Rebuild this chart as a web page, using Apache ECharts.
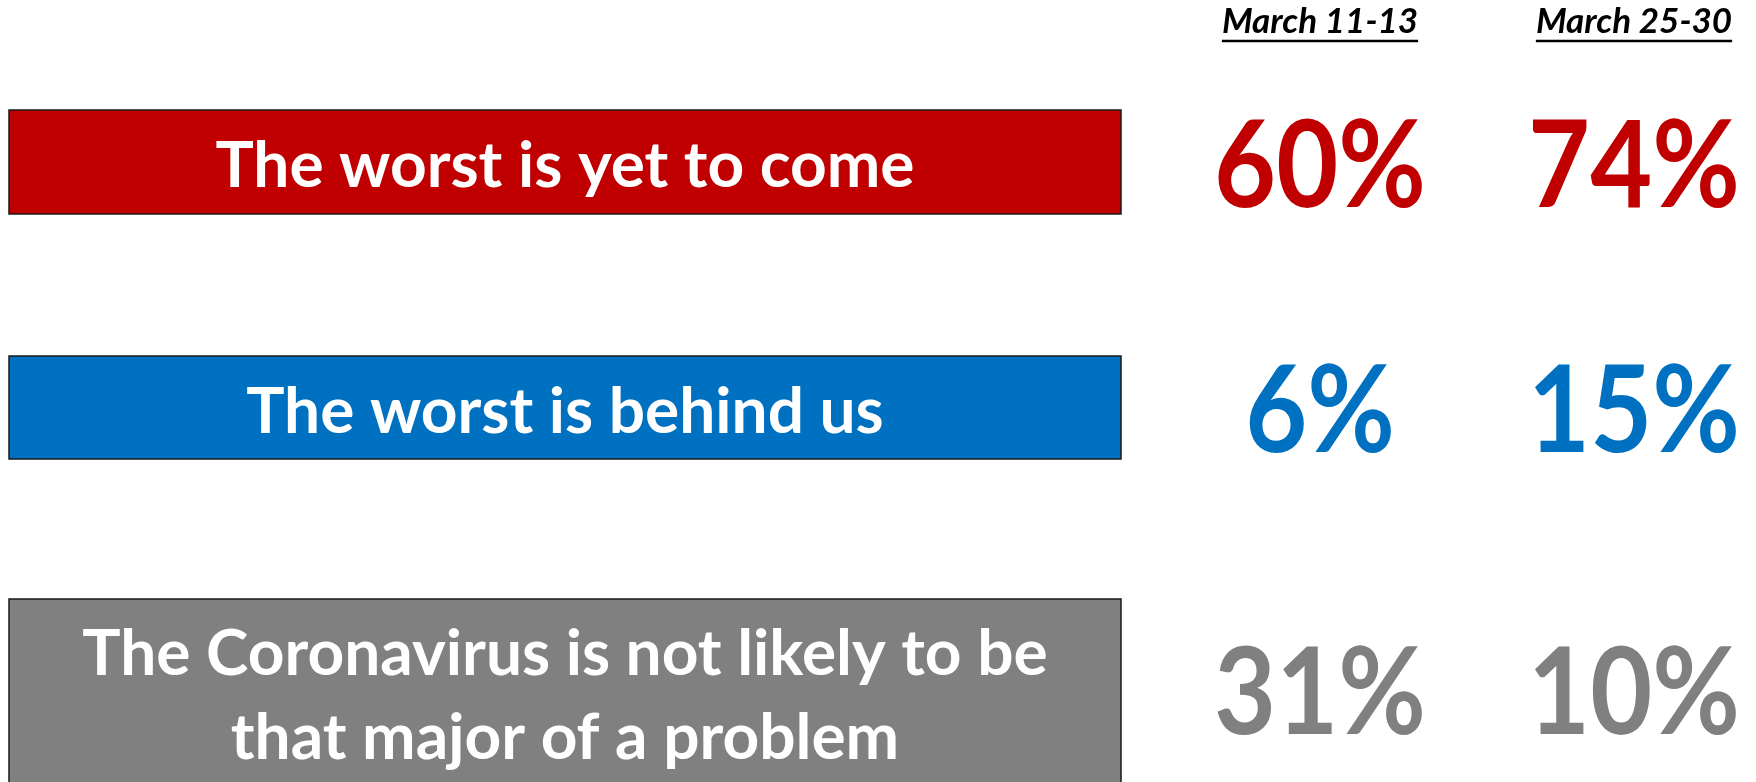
<!DOCTYPE html>
<html>
<head>
<meta charset="utf-8">
<script src="https://cdn.jsdelivr.net/npm/echarts@6/dist/echarts.min.js"></script>
<style>
  html, body { margin: 0; padding: 0; background: #fff; }
  #chart { width: 1756px; height: 782px; }
</style>
</head>
<body>
<div id="chart"></div>
<script>
// data
const categories = [
  'The worst is yet to come',
  'The worst is behind us',
  'The Coronavirus is not likely to be\nthat major of a problem'
]
const periods = ['March 11-13', 'March 25-30']
const march11 = [60, 6, 31]
const march25 = [74, 15, 10]

// layout (pixel units on hidden value axes)
const rowColors = ['#C00000', '#0070C0', '#808080']
const boxLeft = 9
const boxRight = 1121
const rowTops = [110, 356, 599]
const rowBottoms = [214, 459, 800]
const labelY = [166, 412, 696]
const valueY = [168, 413, 695]
const colX = [1320, 1634]
const headerY = 22

const FONT = 'Lato, "Open Sans", sans-serif'
const headerFont = 'italic bold 35px ' + FONT
const valueFont = 'bold 107px ' + FONT

const measure = (() => {
  const ctx = document.createElement('canvas').getContext('2d')
  return (text, font) => {
    ctx.font = font
    return ctx.measureText(text).width
  }
})()

const chart = echarts.init(document.getElementById('chart'))

// one column of percentages, placed through the hidden axes
const valueSeries = (values, j) => ({
  type: 'custom',
  silent: true,
  data: values.map((v, i) => [colX[j], valueY[i], v]),
  renderItem: (params, api) => {
    const i = params.dataIndex
    const c = api.coord([api.value(0), api.value(1)])
    return {
      type: 'text',
      x: c[0],
      y: c[1],
      scaleY: 1.13,
      style: {
        text: api.value(2) + '%',
        fill: rowColors[i],
        font: valueFont,
        align: 'center',
        verticalAlign: 'middle'
      }
    }
  }
})

chart.setOption({
  animation: false,
  grid: { left: 0, right: 0, top: 0, bottom: 0 },
  xAxis: { type: 'value', min: 0, max: 1756, show: false },
  yAxis: { type: 'value', min: 0, max: 782, inverse: true, show: false },
  series: [
    {
      type: 'custom',
      silent: true,
      clip: false,
      data: categories.map((c, i) => [i]),
      renderItem: (params, api) => {
        const i = params.dataIndex
        const p1 = api.coord([boxLeft, rowTops[i]])
        const p2 = api.coord([boxRight, rowBottoms[i]])
        const c = api.coord([(boxLeft + boxRight) / 2, labelY[i]])
        return {
          type: 'group',
          children: [
            {
              type: 'rect',
              shape: { x: p1[0], y: p1[1], width: p2[0] - p1[0], height: p2[1] - p1[1] },
              style: { fill: rowColors[i], stroke: '#1a1a1a', lineWidth: 1.5 }
            },
            {
              type: 'text',
              x: c[0],
              y: c[1],
              style: {
                text: categories[i],
                fill: '#fff',
                font: 'bold 64px ' + FONT,
                lineHeight: 84,
                align: 'center',
                verticalAlign: 'middle'
              }
            }
          ]
        }
      }
    },
    {
      type: 'custom',
      silent: true,
      data: periods.map((p, j) => [j]),
      renderItem: (params, api) => {
        const j = params.dataIndex
        const c = api.coord([colX[j], headerY])
        const w = measure(periods[j], headerFont)
        return {
          type: 'group',
          children: [
            {
              type: 'text',
              x: c[0],
              y: c[1],
              style: {
                text: periods[j],
                fill: '#000',
                font: headerFont,
                align: 'center',
                verticalAlign: 'middle'
              }
            },
            {
              type: 'line',
              shape: { x1: c[0] - w / 2, y1: c[1] + 19, x2: c[0] + w / 2, y2: c[1] + 19 },
              style: { stroke: '#000', lineWidth: 2.5 }
            }
          ]
        }
      }
    },
    valueSeries(march11, 0),
    valueSeries(march25, 1)
  ]
})
</script>
</body>
</html>
